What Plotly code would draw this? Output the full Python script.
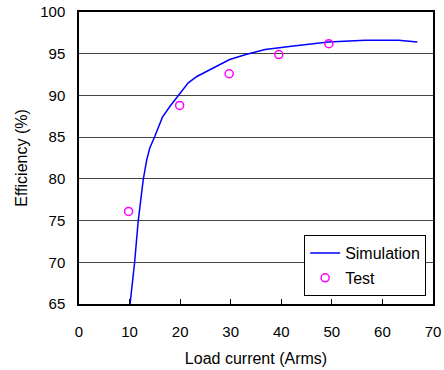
import plotly.graph_objects as go

# Simulated efficiency curve
sim_current = [10.1, 11.0, 11.7, 12.7, 13.4, 14.0, 15.0, 16.5, 18.0, 19.0, 20.0,
               21.6, 23.4, 27.2, 29.8, 33.0, 36.8, 42.0, 49.3, 56.6, 63.2, 66.9]
sim_eff = [65.0, 70.0, 74.9, 79.9, 82.3, 83.7, 85.1, 87.4, 88.7, 89.5, 90.3,
           91.5, 92.3, 93.5, 94.3, 94.9, 95.5, 95.9, 96.4, 96.6, 96.6, 96.4]

# Measured points
test_current = [9.8, 19.9, 29.7, 39.5, 49.4]
test_eff = [76.1, 88.8, 92.6, 94.9, 96.2]

x_ticks = [0, 10, 20, 30, 40, 50, 60, 70]
y_ticks = [65, 70, 75, 80, 85, 90, 95, 100]

font_family = "Liberation Sans, Arial, sans-serif"

fig = go.Figure()
fig.add_trace(go.Scatter(
    x=sim_current, y=sim_eff, mode="lines", name="Simulation",
    legendgroup="sim",
    line=dict(color="#0000FF", width=1.5),
))
fig.add_trace(go.Scatter(
    x=test_current, y=test_eff, mode="markers", name="Test",
    legendgroup="test",
    marker=dict(symbol="circle-open", color="#FF00FF", size=8,
                line=dict(width=1.5, color="#FF00FF")),
))

fig.update_layout(
    width=444, height=370,
    margin=dict(l=79, r=11, t=12, b=66, autoexpand=False),
    paper_bgcolor="white", plot_bgcolor="white",
    font=dict(family=font_family, size=15, color="black"),
    showlegend=True,
    legend=dict(
        x=0.636, y=0.236, xanchor="left", yanchor="top",
        bgcolor="white", bordercolor="black", borderwidth=1,
        font=dict(size=16), traceorder="grouped", tracegroupgap=1,
        itemwidth=30,
    ),
    xaxis=dict(
        range=[0, 70], tickvals=x_ticks, ticks="inside", ticklen=5,
        tickcolor="black", showgrid=False, zeroline=False, automargin=False,
        showline=True, linecolor="black", linewidth=1.5, mirror=True,
        title=dict(text="Load current (Arms)", standoff=14, font=dict(size=16)),
        tickfont=dict(size=15), ticklabelstandoff=13,
    ),
    yaxis=dict(
        range=[65, 100], tickvals=y_ticks, ticks="", showgrid=True,
        gridcolor="#444444", gridwidth=1, zeroline=False, automargin=False,
        showline=True, linecolor="black", linewidth=1.5, mirror=True,
        title=dict(text="Efficiency (%)", standoff=9, font=dict(size=16)),
        tickfont=dict(size=15), ticklabelstandoff=9,
    ),
)

fig.write_html("out.html")
